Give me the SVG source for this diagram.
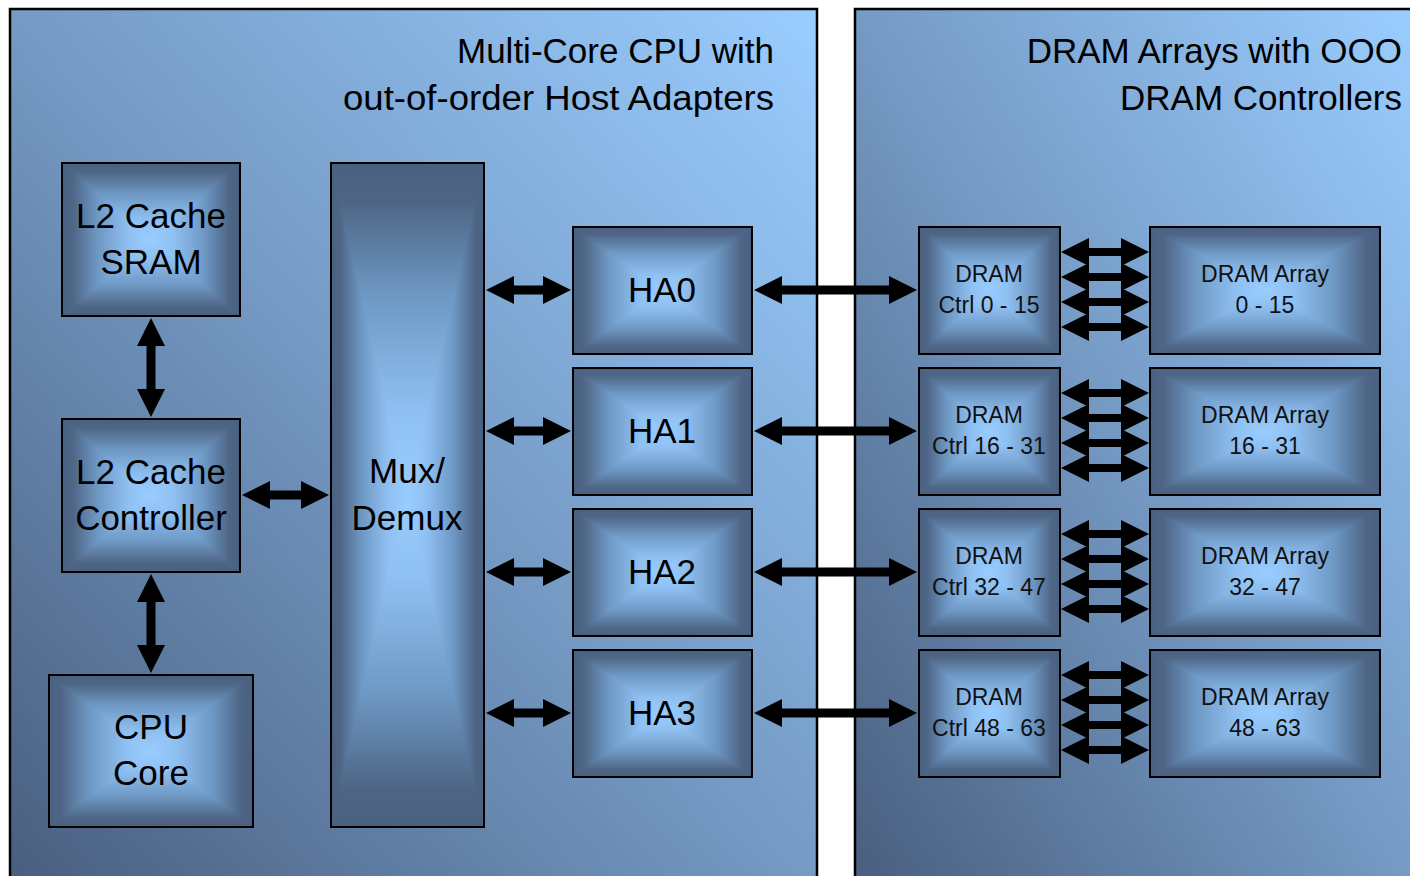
<svg xmlns="http://www.w3.org/2000/svg" width="1410" height="876" viewBox="0 0 1410 876">
  <style>
    .panel { stroke: #000; stroke-width: 2.5; fill: url(#panelGrad); }
    .box { stroke: #000; stroke-width: 2; fill: url(#bevel); }
    .title { font-family: "Liberation Sans", Arial, sans-serif; font-size: 35px; fill: #000; text-anchor: end; }
    .big { font-family: "Liberation Sans", Arial, sans-serif; font-size: 35px; fill: #000; text-anchor: middle; }
    .small { font-family: "Liberation Sans", Arial, sans-serif; font-size: 23px; fill: #111; text-anchor: middle; }
    .link { stroke: #000; stroke-width: 9; fill: none; marker-start: url(#head); marker-end: url(#head); }
    .link.thin { stroke-width: 8; }
  </style>
  <defs>
    <linearGradient id="panelGrad" x1="0" y1="1" x2="1" y2="0">
      <stop offset="0" stop-color="#485e7e"/>
      <stop offset="0.5" stop-color="#759ac4"/>
      <stop offset="1" stop-color="#9acdff"/>
    </linearGradient>
    <!-- pyramid bevel: dark rim fading to the light centre -->
    <linearGradient id="bvV" gradientUnits="userSpaceOnUse" x1="0" y1="0" x2="0" y2="1">
      <stop offset="0" stop-color="#4a6080"/>
      <stop offset="0.06" stop-color="#4e6686"/>
      <stop offset="0.2" stop-color="#6e98c4"/>
      <stop offset="0.375" stop-color="#8fc0f2"/>
      <stop offset="0.5" stop-color="#99ccff"/>
      <stop offset="0.625" stop-color="#8fc0f2"/>
      <stop offset="0.8" stop-color="#6e98c4"/>
      <stop offset="0.94" stop-color="#4e6686"/>
      <stop offset="1" stop-color="#4a6080"/>
    </linearGradient>
    <linearGradient id="bvL" x1="0" y1="0" x2="1" y2="0">
      <stop offset="0" stop-color="#4a6080"/>
      <stop offset="0.12" stop-color="#4e6686"/>
      <stop offset="0.4" stop-color="#6e98c4"/>
      <stop offset="0.75" stop-color="#8fc0f2"/>
      <stop offset="1" stop-color="#99ccff"/>
    </linearGradient>
    <linearGradient id="bvR" href="#bvL" x1="1" y1="0" x2="0" y2="0"/>
    <pattern id="bevel" patternUnits="objectBoundingBox" patternContentUnits="objectBoundingBox" x="0" y="0" width="1" height="1">
      <rect x="0" y="0" width="1" height="1" fill="url(#bvV)"/>
      <polygon points="0,0 0,1 0.5,0.5" fill="url(#bvL)"/>
      <polygon points="1,0 1,1 0.5,0.5" fill="url(#bvR)"/>
    </pattern>
    <marker id="head" markerUnits="userSpaceOnUse" markerWidth="30" markerHeight="30" refX="1" refY="14" orient="auto-start-reverse" overflow="visible">
      <path d="M0,0 L28,14 L0,28 Z" fill="#000"/>
    </marker>
  </defs>

  <!-- enclosing panels -->
  <g id="panel-cpu">
    <rect class="panel" x="10" y="9" width="807" height="880"/>
    <text class="title" x="774" y="63">Multi-Core CPU with</text>
    <text class="title" x="774" y="110" textLength="431" lengthAdjust="spacingAndGlyphs">out-of-order Host Adapters</text>
  </g>
  <g id="panel-dram">
    <rect class="panel" x="855" y="9" width="557" height="880"/>
    <text class="title" x="1402" y="63">DRAM Arrays with OOO</text>
    <text class="title" x="1402" y="110">DRAM Controllers</text>
  </g>

  <!-- connectors -->
  <g id="connectors">
    <line class="link" x1="151" y1="345" x2="151" y2="390"/>
    <line class="link" x1="151" y1="601" x2="151" y2="646"/>
    <line class="link" x1="269" y1="495" x2="302" y2="495"/>

    <line class="link" x1="513" y1="290" x2="544" y2="290"/>
    <line class="link" x1="513" y1="431" x2="544" y2="431"/>
    <line class="link" x1="513" y1="572" x2="544" y2="572"/>
    <line class="link" x1="513" y1="713" x2="544" y2="713"/>

    <line class="link" x1="781" y1="290" x2="890" y2="290"/>
    <line class="link" x1="781" y1="431" x2="890" y2="431"/>
    <line class="link" x1="781" y1="572" x2="890" y2="572"/>
    <line class="link" x1="781" y1="713" x2="890" y2="713"/>

    <g id="ctrl-array-links">
      <line class="link thin" x1="1088" y1="252" x2="1122" y2="252"/>
      <line class="link thin" x1="1088" y1="277" x2="1122" y2="277"/>
      <line class="link thin" x1="1088" y1="302" x2="1122" y2="302"/>
      <line class="link thin" x1="1088" y1="327" x2="1122" y2="327"/>

      <line class="link thin" x1="1088" y1="393" x2="1122" y2="393"/>
      <line class="link thin" x1="1088" y1="418" x2="1122" y2="418"/>
      <line class="link thin" x1="1088" y1="443" x2="1122" y2="443"/>
      <line class="link thin" x1="1088" y1="468" x2="1122" y2="468"/>

      <line class="link thin" x1="1088" y1="534" x2="1122" y2="534"/>
      <line class="link thin" x1="1088" y1="559" x2="1122" y2="559"/>
      <line class="link thin" x1="1088" y1="584" x2="1122" y2="584"/>
      <line class="link thin" x1="1088" y1="609" x2="1122" y2="609"/>

      <line class="link thin" x1="1088" y1="675" x2="1122" y2="675"/>
      <line class="link thin" x1="1088" y1="700" x2="1122" y2="700"/>
      <line class="link thin" x1="1088" y1="725" x2="1122" y2="725"/>
      <line class="link thin" x1="1088" y1="750" x2="1122" y2="750"/>
    </g>
  </g>

  <!-- CPU side -->
  <g id="l2-sram">
    <rect class="box" x="62" y="163" width="178" height="153"/>
    <text class="big" x="151" y="228">L2 Cache</text>
    <text class="big" x="151" y="274">SRAM</text>
  </g>
  <g id="l2-ctrl">
    <rect class="box" x="62" y="419" width="178" height="153"/>
    <text class="big" x="151" y="484">L2 Cache</text>
    <text class="big" x="151" y="530">Controller</text>
  </g>
  <g id="cpu-core">
    <rect class="box" x="49" y="675" width="204" height="152"/>
    <text class="big" x="151" y="739">CPU</text>
    <text class="big" x="151" y="785">Core</text>
  </g>
  <g id="mux">
    <rect class="box" x="331" y="163" width="153" height="664"/>
    <text class="big" x="407" y="483">Mux/</text>
    <text class="big" x="407" y="530">Demux</text>
  </g>
  <g id="ha0">
    <rect class="box" x="573" y="227" width="179" height="127"/>
    <text class="big" x="662" y="302">HA0</text>
  </g>
  <g id="ha1">
    <rect class="box" x="573" y="368" width="179" height="127"/>
    <text class="big" x="662" y="443">HA1</text>
  </g>
  <g id="ha2">
    <rect class="box" x="573" y="509" width="179" height="127"/>
    <text class="big" x="662" y="584">HA2</text>
  </g>
  <g id="ha3">
    <rect class="box" x="573" y="650" width="179" height="127"/>
    <text class="big" x="662" y="725">HA3</text>
  </g>

  <!-- DRAM side -->
  <g id="ctrl0">
    <rect class="box" x="919" y="227" width="141" height="127"/>
    <text class="small" x="989" y="282">DRAM</text>
    <text class="small" x="989" y="313">Ctrl 0 - 15</text>
  </g>
  <g id="ctrl1">
    <rect class="box" x="919" y="368" width="141" height="127"/>
    <text class="small" x="989" y="423">DRAM</text>
    <text class="small" x="989" y="454">Ctrl 16 - 31</text>
  </g>
  <g id="ctrl2">
    <rect class="box" x="919" y="509" width="141" height="127"/>
    <text class="small" x="989" y="564">DRAM</text>
    <text class="small" x="989" y="595">Ctrl 32 - 47</text>
  </g>
  <g id="ctrl3">
    <rect class="box" x="919" y="650" width="141" height="127"/>
    <text class="small" x="989" y="705">DRAM</text>
    <text class="small" x="989" y="736">Ctrl 48 - 63</text>
  </g>
  <g id="array0">
    <rect class="box" x="1150" y="227" width="230" height="127"/>
    <text class="small" x="1265" y="282">DRAM Array</text>
    <text class="small" x="1265" y="313">0 - 15</text>
  </g>
  <g id="array1">
    <rect class="box" x="1150" y="368" width="230" height="127"/>
    <text class="small" x="1265" y="423">DRAM Array</text>
    <text class="small" x="1265" y="454">16 - 31</text>
  </g>
  <g id="array2">
    <rect class="box" x="1150" y="509" width="230" height="127"/>
    <text class="small" x="1265" y="564">DRAM Array</text>
    <text class="small" x="1265" y="595">32 - 47</text>
  </g>
  <g id="array3">
    <rect class="box" x="1150" y="650" width="230" height="127"/>
    <text class="small" x="1265" y="705">DRAM Array</text>
    <text class="small" x="1265" y="736">48 - 63</text>
  </g>
</svg>
